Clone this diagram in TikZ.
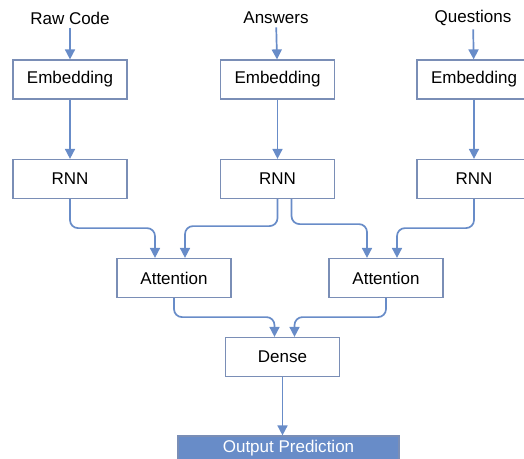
\documentclass[tikz,border=0pt]{standalone}
\usepackage{fontspec}
\setmainfont{Liberation Sans}
\usetikzlibrary{arrows.meta}

\definecolor{flowblue}{RGB}{104,140,200}
\definecolor{boxline}{RGB}{122,142,182}

\begin{document}
\begin{tikzpicture}[x=1pt,y=-1pt,
    font=\fontsize{17}{20}\selectfont,
    flow/.style={draw=flowblue,line width=1.7pt,rounded corners=8pt,
      -{Triangle[width=10pt,length=10pt]}}]

        \useasboundingbox (0,0) rectangle (524,458);

        \node (in1) at (70,18)  {Raw Code};
        \node (in2) at (276,18) {Answers};
        \node (in3) at (473,18) {Questions};

        \begin{scope}[every node/.style={draw=boxline,line width=1.2pt,
            minimum width=114pt,minimum height=39pt,inner sep=0pt}]
          \node (e1) at (70,79.5)    {Embedding};
          \node (e2) at (277.5,79.5) {Embedding};
          \node (e3) at (474,79.5)   {Embedding};
          \node (r1) at (70,179)     {RNN};
          \node (r2) at (277.5,179)  {RNN};
          \node (r3) at (474,179)    {RNN};
          \node (a1) at (174,278)    {Attention};
          \node (a2) at (386,278)    {Attention};
          \node (d)  at (282.5,357)  {Dense};
        \end{scope}

        \node[draw=boxline,fill=flowblue,text=white,line width=1.2pt,
          minimum width=221pt,minimum height=24pt,inner sep=0pt]
          (out) at (288.5,448) {Output Prediction};

        \begin{scope}[every edge/.style={flow}]
          \path (in1) edge (e1);
          \path (in2) edge (e2);
          \path (in3) edge (e3);
          \path (e1)  edge (r1);
          \path (e2)  edge (r2);
          \path (e3)  edge (r3);
        \end{scope}

        \draw[flow] (r1.south) -- ++(0,29) -| ([xshift=-19pt]a1.north);
        \draw[flow] (r2.south) -- ++(0,27) -| ([xshift=11pt]a1.north);
        \draw[flow] ([xshift=14pt]r2.south) -- ++(0,25) -| ([xshift=-19pt]a2.north);
        \draw[flow] (r3.south) -- ++(0,29) -| ([xshift=11pt]a2.north);
        \draw[flow] (a1.south) -- ++(0,19) -| ([xshift=-8pt]d.north);
        \draw[flow] (a2.south) -- ++(0,19) -| ([xshift=12pt]d.north);
        \draw[flow] (d.south) -- (d.south |- out.north);

      \end{tikzpicture}
\end{document}
